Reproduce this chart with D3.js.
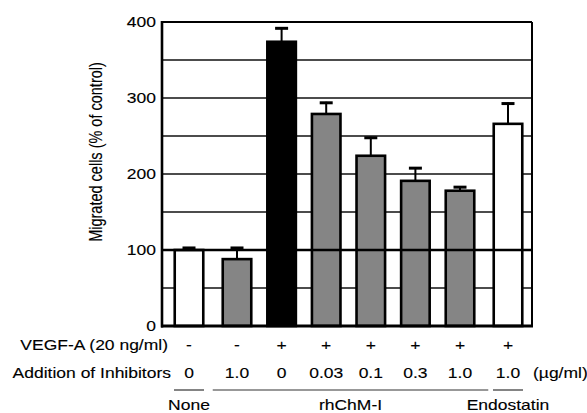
<!DOCTYPE html>
<html>
<head>
<meta charset="utf-8">
<script src="https://cdn.jsdelivr.net/npm/d3@7"></script>
<style>
  body { margin: 0; background: #fff; }
  text { font-family: "Liberation Sans", Arial, sans-serif; fill: #000; stroke: #000; stroke-width: 0.12px; }
</style>
</head>
<body>
<svg></svg>
<script>
// data
var conditions = ["none", "chm1_1.0_noVEGF", "vegf", "chm1_0.03", "chm1_0.1", "chm1_0.3", "chm1_1.0", "endo_1.0"];
var migrated = [100, 88, 374, 279, 224, 191, 178, 266];
var errUp = [4, 16, 19, 16, 25, 18, 6, 28];
var barKind = ["white", "gray", "black", "gray", "gray", "gray", "gray", "white"];
var vegfRow = ["-", "-", "+", "+", "+", "+", "+", "+"];
var inhibRow = ["0", "1.0", "0", "0.03", "0.1", "0.3", "1.0", "1.0"];
var groupOf = ["None", "rhChM-I", "rhChM-I", "rhChM-I", "rhChM-I", "rhChM-I", "rhChM-I", "Endostatin"];
var groups = ["None", "rhChM-I", "Endostatin"];
var yTicks = [0, 100, 200, 300, 400];
var yGrid = [50, 150, 250, 350];

var screen = {width: 587, height: 413};
var plot = {left: 162, right: 532, top: 22, bottom: 326};
var stretch = 1.25; // the scan is wider than it is tall

var svg = d3.select("svg")
    .attr("width", screen.width)
    .attr("height", screen.height);

var yScale = d3.scaleLinear()
    .domain([0, 400])
    .range([plot.bottom, plot.top]);

var xScale = d3.scaleBand()
    .domain(conditions)
    .range([166.7, 523.5])
    .paddingInner(0.36)
    .paddingOuter(0.18);

var groupGap = 3.4;
var barX = function(d, i) { return xScale(conditions[i]) + groups.indexOf(groupOf[i]) * groupGap; };
var barMid = function(i) { return barX(null, i) + xScale.bandwidth() / 2; };

var fills = {white: "#ffffff", gray: "#858585", black: "#000000"};

var addText = function(x, y, str, anchor, size) {
    return svg.append("text")
        .attr("transform", "translate(" + x + "," + y + ") scale(" + stretch + ",1)")
        .attr("text-anchor", anchor)
        .attr("dy", "0.35em")
        .style("font-size", (size || 14) + "px")
        .text(str);
};

// gridlines behind bars (100 goes on top later)
svg.selectAll("line.grid")
    .data(yGrid.concat([200, 300]))
    .enter()
    .append("line")
    .attr("class", "grid")
    .attr("x1", plot.left).attr("x2", plot.right)
    .attr("y1", function(d){ return yScale(d); })
    .attr("y2", function(d){ return yScale(d); })
    .attr("stroke", "#111")
    .attr("stroke-width", 1.6);

// error bars
var errG = svg.append("g");
migrated.forEach(function(v, i) {
    var cx = barMid(i);
    errG.append("line")
        .attr("x1", cx).attr("x2", cx)
        .attr("y1", yScale(v)).attr("y2", yScale(v + errUp[i]))
        .attr("stroke", "#000").attr("stroke-width", 2);
    errG.append("line")
        .attr("x1", cx - 6.5).attr("x2", cx + 6.5)
        .attr("y1", yScale(v + errUp[i]) + 1).attr("y2", yScale(v + errUp[i]) + 1)
        .attr("stroke", "#000").attr("stroke-width", 3);
});

// bars
svg.selectAll("rect.bar")
    .data(migrated)
    .enter()
    .append("rect")
    .attr("class", "bar")
    .attr("x", barX)
    .attr("width", xScale.bandwidth())
    .attr("y", function(d){ return yScale(d); })
    .attr("height", function(d){ return plot.bottom - yScale(d); })
    .attr("fill", function(d, i){ return fills[barKind[i]]; })
    .attr("stroke", "#000")
    .attr("stroke-width", 2.6);

// the 100 % line runs over the bars
svg.append("line")
    .attr("x1", plot.left).attr("x2", plot.right)
    .attr("y1", yScale(100)).attr("y2", yScale(100))
    .attr("stroke", "#000").attr("stroke-width", 2.4);

// frame
svg.append("line").attr("x1", plot.left).attr("x2", plot.right)
    .attr("y1", plot.top).attr("y2", plot.top)
    .attr("stroke", "#000").attr("stroke-width", 2);
svg.append("line").attr("x1", plot.right).attr("x2", plot.right)
    .attr("y1", plot.top).attr("y2", plot.bottom)
    .attr("stroke", "#000").attr("stroke-width", 2);
svg.append("line").attr("x1", plot.left).attr("x2", plot.left)
    .attr("y1", plot.top - 1).attr("y2", plot.bottom + 1.5)
    .attr("stroke", "#000").attr("stroke-width", 2.6);
svg.append("line").attr("x1", plot.left - 1).attr("x2", plot.right + 1)
    .attr("y1", plot.bottom).attr("y2", plot.bottom)
    .attr("stroke", "#000").attr("stroke-width", 3);

// y tick labels
yTicks.forEach(function(t) {
    addText(plot.left - 6, yScale(t), String(t), "end", 14);
});

// y title
svg.append("text")
    .attr("transform", "translate(96,152) scale(" + stretch + ",1) rotate(-90)")
    .attr("text-anchor", "middle")
    .attr("dy", "0.35em")
    .style("font-size", "14.5px")
    .text("Migrated cells (% of control)");

// condition rows under the axis
addText(168, 345, "VEGF-A (20 ng/ml)", "end");
addText(171, 373, "Addition of Inhibitors", "end");
vegfRow.forEach(function(s, i){ addText(barMid(i), 345, s, "middle"); });
inhibRow.forEach(function(s, i){ addText(barMid(i), 373, s, "middle"); });
addText(533, 373, "(\u00b5g/ml)", "start");

// group underlines + names
groups.forEach(function(g) {
    var idx = d3.range(conditions.length).filter(function(i){ return groupOf[i] === g; });
    var first = idx[0], last = idx[idx.length - 1];
    var x1, x2;
    if (idx.length === 1) {
        x1 = barMid(first) - 15; x2 = barMid(first) + 15;
    } else {
        x1 = barX(null, first) - 10; x2 = barX(null, last) + xScale.bandwidth() + 14;
    }
    svg.append("line")
        .attr("x1", x1).attr("x2", x2)
        .attr("y1", 390).attr("y2", 390)
        .attr("stroke", "#333").attr("stroke-width", 1.2);
    addText((x1 + x2) / 2, 405, g, "middle");
});
</script>
</body>
</html>
